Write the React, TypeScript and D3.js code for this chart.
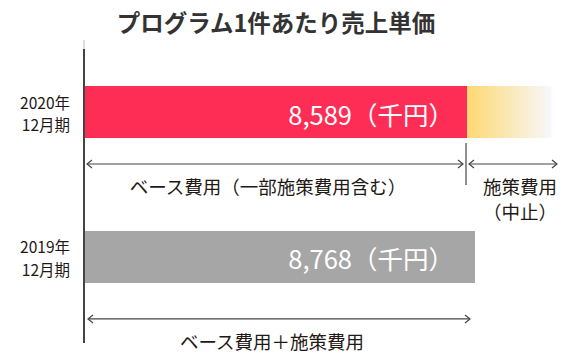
import React from "react";
import * as d3 from "d3";

const title = "プログラム1件あたり売上単価";
const categories = ["2020", "2019"];
const yearLabels = ["2020年", "2019年"];
const periodLabels = ["12月期", "12月期"];
const values = [8589, 8768];
const valueLabels = ["8,589（千円）", "8,768（千円）"];
const suspended = [1900, 0];
const barColors = ["#FE2D55", "#A6A6A6"];

const W = 564;
const H = 360;
const FONT = "'Noto Sans CJK JP', 'Noto Sans', sans-serif";
const INK = "#231815";

function Arrow({ x1, x2, y }: { x1: number; x2: number; y: number }) {
  const ah = 5;
  const aw = 4;
  return (
    <g stroke="#444" strokeWidth={1.2} fill="none">
      <line x1={x1} x2={x2} y1={y} y2={y} />
      <polyline points={`${x1 + ah},${y - aw} ${x1},${y} ${x1 + ah},${y + aw}`} />
      <polyline points={`${x2 - ah},${y - aw} ${x2},${y} ${x2 - ah},${y + aw}`} />
    </g>
  );
}

export default function App() {
  const x = d3.scaleLinear().domain([0, 8768]).range([85, 475]);
  const y = d3
    .scaleBand<string>()
    .domain(categories)
    .range([86, 283])
    .paddingInner(0.641)
    .paddingOuter(0);
  const bw = y.bandwidth();

  const y0 = y("2020")!;
  const y1 = y("2019")!;
  const endRed = x(values[0]);
  const endGhost = x(values[0] + suspended[0]);

  return (
    <svg
      width={W}
      height={H}
      style={{ position: "absolute", left: 0, top: 0 }}
      fontFamily={FONT}
    >
      <defs>
        <linearGradient id="ghost" x1="0" x2="1" y1="0" y2="0">
          <stop offset="0%" stopColor="#FFD873" />
          <stop offset="100%" stopColor="#F6F8FC" />
        </linearGradient>
      </defs>
      <rect width={W} height={H} fill="#fff" />
      <text
        x={276}
        y={32}
        textAnchor="middle"
        fontSize={23.5}
        fontWeight={700}
        fill="#333"
      >
        {title}
      </text>

      {/* axis */}
      <line x1={84} x2={84} y1={40} y2={49} stroke="#ddd" strokeWidth={2} />
      <line x1={84} x2={84} y1={49} y2={343} stroke="#444" strokeWidth={2} />

      {/* bars */}
      {categories.map((c, i) => (
        <rect
          key={c}
          x={x(0)}
          y={y(c)}
          width={x(values[i]) - x(0)}
          height={bw}
          fill={barColors[i]}
        />
      ))}
      <rect
        x={endRed}
        y={y0}
        width={endGhost - endRed}
        height={bw}
        fill="url(#ghost)"
      />

      {/* value labels */}
      {categories.map((c, i) => (
        <text
          key={c}
          x={454}
          y={y(c)! + bw / 2 + 12.5}
          textAnchor="end"
          fontSize={25.5}
          fill="#fff"
        >
          {valueLabels[i]}
        </text>
      ))}

      {/* category labels */}
      {categories.map((c, i) => (
        <text
          key={c}
          fontSize={15.5}
          fill={INK}
          textAnchor="end"
          x={70}
          y={y(c)! + bw / 2 - 3.5}
        >
          <tspan x={70}>{yearLabels[i]}</tspan>
          <tspan x={70} dy={22.5}>
            {periodLabels[i]}
          </tspan>
        </text>
      ))}

      {/* brackets row 1 */}
      <Arrow x1={87} x2={463} y={y0 + 78} />
      <line x1={466} x2={466} y1={y0 + 57} y2={y0 + 99} stroke="#444" strokeWidth={1.2} />
      <Arrow x1={469} x2={557} y={y0 + 78} />
      <text x={268} y={y0 + 108} textAnchor="middle" fontSize={18.5} fill={INK}>
        ベース費用（一部施策費用含む）
      </text>
      <text x={520} y={y0 + 108} textAnchor="middle" fontSize={18.5} fill={INK}>
        <tspan x={520}>施策費用</tspan>
        <tspan x={520} dy={25}>
          （中止）
        </tspan>
      </text>

      {/* bracket row 2 */}
      <Arrow x1={88} x2={470} y={y1 + 88} />
      <text x={272} y={y1 + 118} textAnchor="middle" fontSize={18.5} fill={INK}>
        ベース費用＋施策費用
      </text>
    </svg>
  );
}
